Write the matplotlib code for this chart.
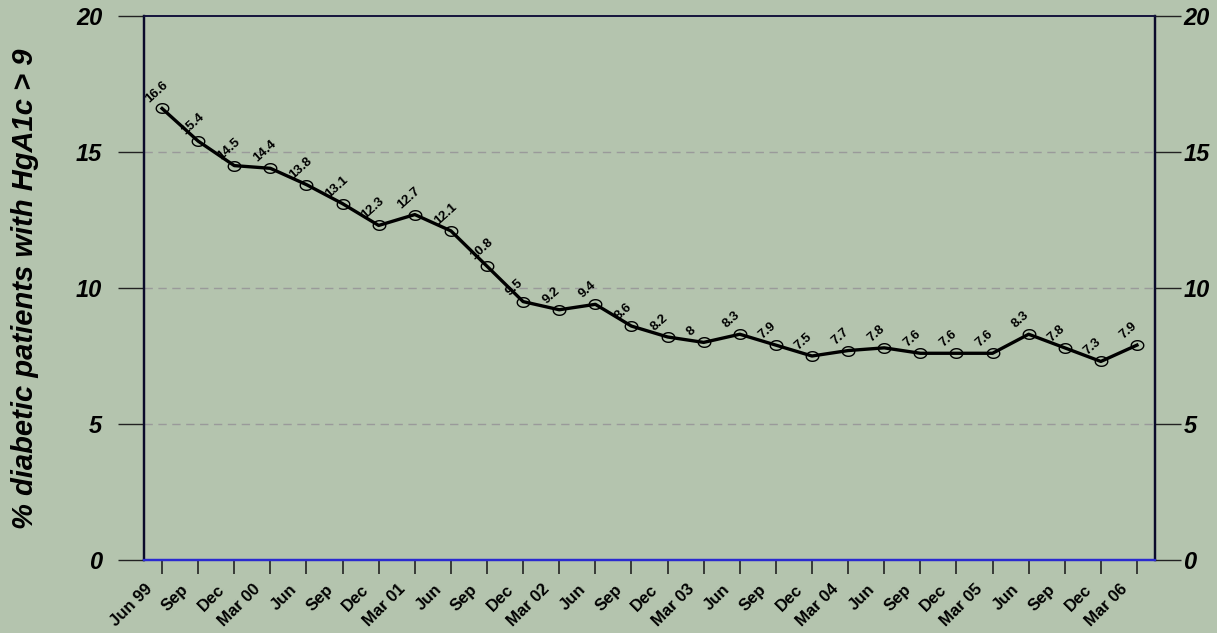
import matplotlib
matplotlib.use("Agg")
import matplotlib.pyplot as plt
from matplotlib.path import Path
import matplotlib.transforms as mtransforms
import numpy as np

plt.rcParams['font.family'] = ['Liberation Sans', 'DejaVu Sans']

categories = ["Jun 99", "Sep", "Dec", "Mar 00", "Jun", "Sep", "Dec", "Mar 01",
              "Jun", "Sep", "Dec", "Mar 02", "Jun", "Sep", "Dec", "Mar 03",
              "Jun", "Sep", "Dec", "Mar 04", "Jun", "Sep", "Dec", "Mar 05",
              "Jun", "Sep", "Dec", "Mar 06"]
values = [16.6, 15.4, 14.5, 14.4, 13.8, 13.1, 12.3, 12.7, 12.1, 10.8, 9.5, 9.2,
          9.4, 8.6, 8.2, 8.0, 8.3, 7.9, 7.5, 7.7, 7.8, 7.6, 7.6, 7.6, 8.3, 7.8,
          7.3, 7.9]
value_labels = ["16.6", "15.4", "14.5", "14.4", "13.8", "13.1", "12.3", "12.7",
                "12.1", "10.8", "9.5", "9.2", "9.4", "8.6", "8.2", "8", "8.3",
                "7.9", "7.5", "7.7", "7.8", "7.6", "7.6", "7.6", "8.3", "7.8",
                "7.3", "7.9"]
yticks = [0, 5, 10, 15, 20]
ylabel = "% diabetic patients with HgA1c > 9"

bg = "#B4C4AE"
fig = plt.figure(figsize=(12.17, 6.33), dpi=100, facecolor=bg)
ax = fig.add_axes([144/1217, 1-560/633, (1155-144)/1217, (560-16)/633])
ax.set_facecolor(bg)

# ellipse marker
t = np.linspace(0, 2*np.pi, 40)
ell = Path(np.column_stack([1.3*np.cos(t), np.sin(t)]), closed=True)

x = np.arange(len(values))
ax.plot(x, values, color="black", lw=2.4, zorder=4)
ax.plot(x, values, ls="none", marker=ell, ms=9, mfc="none", mec="black",
        mew=1, zorder=5)

for xi, v, lab in zip(x, values, value_labels):
    ax.annotate(lab, (xi, v), xytext=(-9.5, 4.3), textcoords="offset points",
                ha="left", va="baseline", rotation=42, rotation_mode="anchor",
                fontsize=9.5, fontweight="bold", zorder=3)

ax.set_xlim(-0.5, len(values) - 0.5)
ax.set_ylim(0, 20)
ax.set_yticks(yticks)
for yv in yticks[1:-1]:
    ax.axhline(yv, color="#9a9a9a", lw=1, ls=(0, (6, 4)), zorder=1)

ax.set_xticks(x)
ax.set_xticklabels([])
ax.tick_params(axis="x", direction="out", length=10, width=1.2,
               color="#222222")
blend = mtransforms.blended_transform_factory(ax.transData, ax.transAxes)
lab_tr = blend + mtransforms.ScaledTranslation(-12/100, -27/100, fig.dpi_scale_trans)
for xi, cat in zip(x, categories):
    ax.text(xi, 0, cat, transform=lab_tr, rotation=45, ha="right", va="center",
            rotation_mode="anchor", fontsize=12, fontweight="bold",
            clip_on=False)

ax.tick_params(axis="y", direction="out", length=19, width=1,
               labelsize=17, color="#222222", pad=11)
for lab in ax.get_yticklabels():
    lab.set_fontweight("bold")
    lab.set_fontstyle("italic")

ax2 = ax.twinx()
ax2.set_ylim(0, 20)
ax2.set_yticks(yticks)
ax2.tick_params(axis="y", direction="out", length=19, width=1,
                labelsize=17, color="#222222", pad=1.5)
for lab in ax2.get_yticklabels():
    lab.set_fontweight("bold")
    lab.set_fontstyle("italic")

for a in (ax, ax2):
    for side in ["left", "right"]:
        a.spines[side].set_color("#0a0a2a")
        a.spines[side].set_linewidth(1.6)
    a.spines["top"].set_color("#14143c")
    a.spines["top"].set_linewidth(1.2)
    a.spines["bottom"].set_color("#2a2ad0")
    a.spines["bottom"].set_linewidth(1.6)

fig.text(25/1217, 1-289/633, ylabel, rotation=90,
         ha="center", va="center", fontsize=21, fontweight="bold",
         fontstyle="italic")

fig.savefig("out.png", dpi=100, facecolor=bg)
